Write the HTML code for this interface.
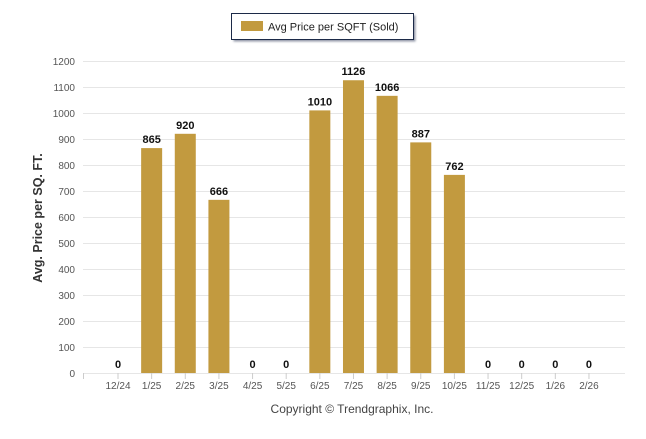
<!DOCTYPE html>
<html><head><meta charset="utf-8"><style>
body{margin:0;background:#fff;font-family:"Liberation Sans",Arial,sans-serif}
svg text{font-family:"Liberation Sans",Arial,sans-serif}
</style></head><body>
<svg width="646" height="434">
<defs><filter id="sh" x="-10%" y="-30%" width="130%" height="180%"><feGaussianBlur stdDeviation="1"/></filter></defs>
<g>
<rect x="233.5" y="15.5" width="182" height="26" fill="#44506a" opacity="0.6" filter="url(#sh)"/>
<rect x="231.5" y="13.5" width="182" height="26" fill="#fff" stroke="#1c2a48" stroke-width="1"/>
<rect x="241" y="21" width="22" height="10" fill="#c29a3f"/>
<text x="268" y="30.5" font-size="11" fill="#222">Avg Price per SQFT (Sold)</text>
</g>
<g id="grid"></g><g id="bars"></g><g id="xl"></g>
<text transform="translate(42,218) rotate(-90)" text-anchor="middle" font-size="12.5" font-weight="bold" fill="#333">Avg. Price per SQ. FT.</text>
<text x="352" y="413" text-anchor="middle" font-size="12" fill="#444">Copyright © Trendgraphix, Inc.</text>
</svg>
<script>
const categories=["12/24","1/25","2/25","3/25","4/25","5/25","6/25","7/25","8/25","9/25","10/25","11/25","12/25","1/26","2/26"];
const values=[0,865,920,666,0,0,1010,1126,1066,887,762,0,0,0,0];
const yTicks=[0,100,200,300,400,500,600,700,800,900,1000,1100,1200];
const NS="http://www.w3.org/2000/svg";
const y=v=>373-v*0.26;
const x=i=>118+33.64*i;
function mk(t,a,p){const e=document.createElementNS(NS,t);for(const k in a)e.setAttribute(k,a[k]);p.appendChild(e);return e;}
const g=document.getElementById('grid'),b=document.getElementById('bars'),xl=document.getElementById('xl');
yTicks.forEach(v=>{
 const l=mk('line',{x1:83,x2:625,y1:y(v)+0.5,y2:y(v)+0.5,stroke:'#e6e6e6'},g);
 
 
 const t=mk('text',{x:75,y:y(v)+4,'text-anchor':'end','font-size':'10',fill:'#555'},g);t.textContent=v;
 
 
});
mk('line',{x1:83.5,x2:83.5,y1:373,y2:379,stroke:'#ccc'},g);
categories.forEach((c,i)=>{
 const cx=x(i),v=values[i];
 if(v>0){const r=mk('rect',{x:cx-10.5,y:y(v),width:21,height:373-y(v),fill:'#c29a3f'},b);
 
 }
 const vl=mk('text',{x:cx,y:y(v)-5,'text-anchor':'middle','font-size':'11','font-weight':'bold',fill:'#111'},b);vl.textContent=v;
 
 
 mk('line',{x1:cx,x2:cx,y1:373,y2:379,stroke:'#ccc'},xl);
 const t=mk('text',{x:cx,y:389,'text-anchor':'middle','font-size':'10',fill:'#555'},xl);t.textContent=c;
 
 
});
</script>
</body></html>
